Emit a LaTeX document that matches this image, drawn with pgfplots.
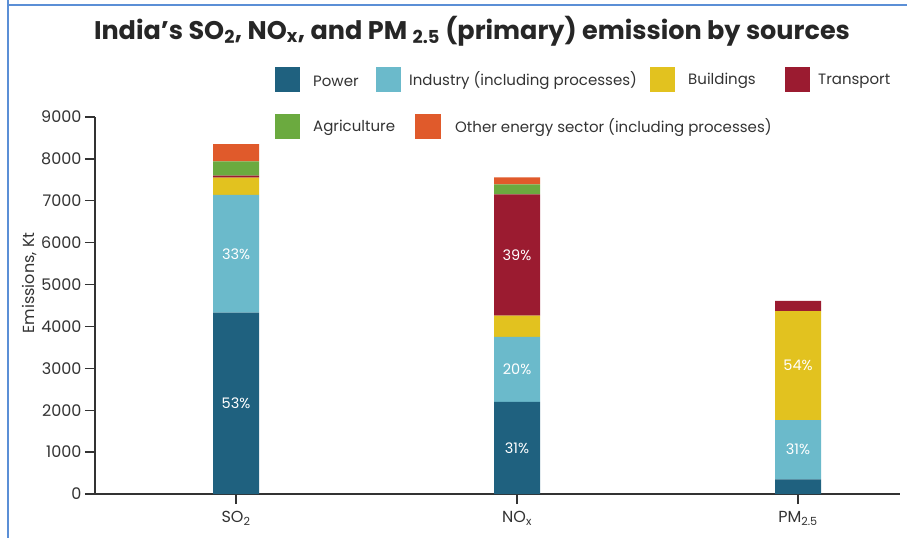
\documentclass[border=0pt]{standalone}
\usepackage{fontspec}
\setmainfont{Poppins}
\usepackage{pgfplots}
\usepackage{pgfplotstable}
\pgfplotsset{compat=1.18}

\definecolor{cpower}{HTML}{1F617F}
\definecolor{cindustry}{HTML}{6BBACB}
\definecolor{cbuild}{HTML}{E2C21F}
\definecolor{ctrans}{HTML}{9B1B30}
\definecolor{cagri}{HTML}{6BAA3F}
\definecolor{cother}{HTML}{E05A2B}
\definecolor{caxis}{HTML}{333333}
\definecolor{cframe}{HTML}{5B8FD6}

% Emissions (kt) by source; x = 0 SO2, 1 NOx, 2 PM2.5
\pgfplotstableread{
x power industry buildings transport agriculture other
0 4330 2810 410 50 340 410
1 2200 1550 510 2890 240 170
2 350 1415 2600 245 0 0
}\emistable

\newcommand{\sub}[1]{\textsubscript{#1}}

\begin{document}
\begin{tikzpicture}
\path[use as bounding box] (0pt,0pt) rectangle (907pt,538pt);
% frame
\draw[cframe, line width=1.5pt] (8pt,533pt) -- (907pt,533pt);
\draw[cframe, line width=1.5pt] (8pt,538pt) -- (8pt,0pt);

% title
\node[font=\fontsize{25.5}{28}\selectfont\bfseries, text=black!85] at (472pt,507pt)
  {India’s SO\sub{2}, NO\sub{x}, and PM \sub{2.5} (primary) emission by sources};

% legend
\begin{scope}[every node/.style={anchor=west, font=\fontsize{15}{17}\selectfont, text=caxis, inner sep=0pt}]
\fill[cpower]    (275pt,446pt) rectangle ++(25pt,25pt); \node at (313pt,457pt) {Power};
\fill[cindustry] (376pt,446pt) rectangle ++(25pt,25pt); \node at (409pt,457pt) {Industry (including processes)};
\fill[cbuild]    (650pt,446pt) rectangle ++(25pt,25pt); \node at (688pt,457pt) {Buildings};
\fill[ctrans]    (785pt,446pt) rectangle ++(25pt,25pt); \node at (818pt,457pt) {Transport};
\fill[cagri]     (275pt,399pt) rectangle ++(25pt,25pt); \node at (313pt,410pt) {Agriculture};
\fill[cother]    (415pt,399pt) rectangle ++(26pt,25pt); \node at (455pt,410pt) {Other energy sector (including processes)};
\end{scope}

\begin{axis}[
  at={(95pt,44pt)}, anchor=south west,
  scale only axis, width=805pt, height=377pt,
  ybar stacked, bar width=46pt,
  xmin=-0.502, xmax=2.363,
  ymin=0, ymax=9000,
  ytick={0,1000,...,9000},
  xtick={0,1,2},
  xticklabels={SO\sub{2}, NO\sub{x}, PM\sub{2.5}},
  axis lines*=left,
  axis line style={caxis, line width=1.3pt},
  tick style={caxis, line width=1.3pt},
  tick align=outside,
  major tick length=10pt,
  /pgf/number format/assume math mode=true,
  /pgf/number format/1000 sep={},
  ticklabel style={font=\fontsize{16}{18}\selectfont, text=caxis},
  xticklabel style={yshift=-4pt},
  every axis y label/.style={at={(axis description cs:-0.081,0.56)}, rotate=90, anchor=center,
    font=\fontsize{16}{18}\selectfont, text=caxis},
  ylabel={Emissions, Kt},
  clip=false,
]
\addplot[fill=cpower, draw=none]    table[x=x, y=power]       {\emistable};
\addplot[fill=cindustry, draw=none] table[x=x, y=industry]    {\emistable};
\addplot[fill=cbuild, draw=none]    table[x=x, y=buildings]   {\emistable};
\addplot[fill=ctrans, draw=none]    table[x=x, y=transport]   {\emistable};
\addplot[fill=cagri, draw=none]     table[x=x, y=agriculture] {\emistable};
\addplot[fill=cother, draw=none]    table[x=x, y=other]       {\emistable};

% anchor points for the share labels (segment midpoints)
\coordinate (a1) at (axis cs:0,2165);
\coordinate (a2) at (axis cs:0,5735);
\coordinate (b1) at (axis cs:1,1100);
\coordinate (b2) at (axis cs:1,2975);
\coordinate (b3) at (axis cs:1,5705);
\coordinate (c1) at (axis cs:2,1058);
\coordinate (c2) at (axis cs:2,3060);
\end{axis}

\begin{scope}[every node/.style={text=white, font=\fontsize{14.5}{16}\selectfont}]
\node at (a1) {53\%};
\node at (a2) {33\%};
\node at (b1) {31\%};
\node at (b2) {20\%};
\node at (b3) {39\%};
\node at (c1) {31\%};
\node at (c2) {54\%};
\end{scope}
\end{tikzpicture}
\end{document}
